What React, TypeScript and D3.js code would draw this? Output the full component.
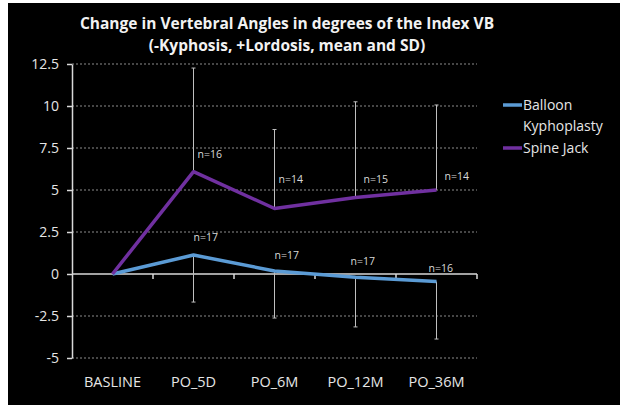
import React, { useEffect, useRef } from "react";
import * as d3 from "d3";

const categories = ["BASLINE", "PO_5D", "PO_6M", "PO_12M", "PO_36M"];
const balloonMean = [0, 1.13, 0.18, -0.2, -0.45];
const balloonSD = [null, 2.8, 2.8, 2.95, 3.42];
const balloonN = [null, "n=17", "n=17", "n=17", "n=16"];
const spineMean = [0, 6.09, 3.9, 4.55, 5.0];
const spineSD = [null, 6.17, 4.7, 5.7, 5.06];
const spineN = [null, "n=16", "n=14", "n=15", "n=14"];
const yTicks = [-5, -2.5, 0, 2.5, 5, 7.5, 10, 12.5];

// label offsets from the point (px)
const balloonLabelOff = [null, [0, -14], [0, -12], [-5, -12], [-8, -10]];
const spineLabelOff = [null, [4, -14], [4, -25], [8, -15], [8, -10]];

const W = 620, H = 405;
const BLUE = "#5b9bd5";
const PURPLE = "#7030a0";
const FONT = "'Open Sans', sans-serif";

export default function App() {
  const ref = useRef<SVGSVGElement>(null);

  useEffect(() => {
    const svg = d3.select(ref.current);
    svg.selectAll("*").remove();

    svg.append("rect").attr("width", W).attr("height", H).attr("fill", "#fff");
    svg.append("rect").attr("x", 8).attr("y", 3).attr("width", W - 8).attr("height", H - 3).attr("fill", "#000");

    const x = d3.scaleBand().domain(categories).range([72, 477]);
    const y = d3.scaleLinear().domain([-5, 12.5]).range([358, 64]);
    const cx = (c: string) => x(c)! + x.bandwidth() / 2;

    // title
    const title = svg.append("text").attr("text-anchor", "middle").attr("fill", "#f2f2f2")
      .style("font-family", FONT).style("font-weight", "bold").style("font-size", "15.5px");
    title.append("tspan").attr("x", 287).attr("y", 29).text("Change in Vertebral Angles in degrees of the Index VB");
    title.append("tspan").attr("x", 287).attr("y", 51).text("(-Kyphosis, +Lordosis, mean and SD)");

    // gridlines
    svg.append("g").selectAll("line").data(yTicks.filter(t => t !== 0)).join("line")
      .attr("x1", 72).attr("x2", 477)
      .attr("y1", d => y(d)).attr("y2", d => y(d))
      .attr("stroke", "#8c8c8c").attr("stroke-width", 1).attr("stroke-dasharray", "2,2");

    // y axis
    const yAxis = svg.append("g").attr("transform", "translate(72,0)")
      .call(d3.axisLeft(y).tickValues(yTicks).tickSize(5).tickSizeOuter(0).tickPadding(8).tickFormat(d => String(d)));
    yAxis.select(".domain").attr("stroke", "#d9d9d9").attr("stroke-width", 1.5);
    yAxis.selectAll(".tick line").attr("stroke", "#d9d9d9").attr("stroke-width", 1.5);
    yAxis.selectAll(".tick text").attr("fill", "#e6e6e6").style("font-family", FONT).style("font-size", "14px");

    // zero line with band ticks
    const bounds = categories.map(c => x(c)! + x.bandwidth());
    svg.append("line").attr("x1", 72).attr("x2", 477).attr("y1", y(0)).attr("y2", y(0))
      .attr("stroke", "#d9d9d9").attr("stroke-width", 1.5);
    svg.append("g").selectAll("line").data(bounds).join("line")
      .attr("x1", d => d).attr("x2", d => d).attr("y1", y(0)).attr("y2", y(0) + 5)
      .attr("stroke", "#d9d9d9").attr("stroke-width", 1.5);

    // x labels
    svg.append("g").selectAll("text").data(categories).join("text")
      .attr("x", d => cx(d)).attr("y", 387).attr("text-anchor", "middle")
      .attr("fill", "#e6e6e6").style("font-family", FONT).style("font-size", "14.5px").text(d => d);

    // error bars: spine jack plus, balloon minus
    const errG = svg.append("g").attr("stroke", "#bfbfbf").attr("stroke-width", 1);
    categories.forEach((c, i) => {
      const sp = spineSD[i];
      if (sp != null) {
        errG.append("line").attr("x1", cx(c)).attr("x2", cx(c)).attr("y1", y(spineMean[i])).attr("y2", y(spineMean[i] + sp));
        errG.append("line").attr("x1", cx(c) - 2).attr("x2", cx(c) + 2).attr("y1", y(spineMean[i] + sp)).attr("y2", y(spineMean[i] + sp));
      }
      const bs = balloonSD[i];
      if (bs != null) {
        errG.append("line").attr("x1", cx(c)).attr("x2", cx(c)).attr("y1", y(balloonMean[i])).attr("y2", y(balloonMean[i] - bs));
        errG.append("line").attr("x1", cx(c) - 2).attr("x2", cx(c) + 2).attr("y1", y(balloonMean[i] - bs)).attr("y2", y(balloonMean[i] - bs));
      }
    });

    const line = d3.line<number>().x((_, i) => cx(categories[i])).y(d => y(d));
    svg.append("path").datum(balloonMean).attr("d", line).attr("fill", "none")
      .attr("stroke", BLUE).attr("stroke-width", 3.5).attr("stroke-linejoin", "round");
    svg.append("path").datum(spineMean).attr("d", line).attr("fill", "none")
      .attr("stroke", PURPLE).attr("stroke-width", 3.5).attr("stroke-linejoin", "round");

    // n labels
    const nLabels = (labels: (string | null)[], means: number[], offs: any[]) => {
      categories.forEach((c, i) => {
        if (!labels[i]) return;
        svg.append("text").attr("x", cx(c) + offs[i][0]).attr("y", y(means[i]) + offs[i][1])
          .attr("fill", "#d9d9d9").style("font-family", FONT).style("font-size", "10.5px").text(labels[i]!);
      });
    };
    nLabels(balloonN, balloonMean, balloonLabelOff);
    nLabels(spineN, spineMean, spineLabelOff);

    // legend
    const legend = [
      { name: ["Balloon", "Kyphoplasty"], color: BLUE },
      { name: ["Spine Jack"], color: PURPLE },
    ];
    let ly = 105;
    legend.forEach(l => {
      svg.append("line").attr("x1", 503).attr("x2", 522).attr("y1", ly).attr("y2", ly)
        .attr("stroke", l.color).attr("stroke-width", 3.5);
      l.name.forEach((t, j) => {
        svg.append("text").attr("x", 523).attr("y", ly + 5 + j * 21).attr("fill", "#e6e6e6")
          .style("font-family", FONT).style("font-size", "14px").text(t);
      });
      ly += 43;
    });
  }, []);

  return <svg ref={ref} width={W} height={H} style={{ position: "absolute", left: 0, top: 0 }} />;
}
